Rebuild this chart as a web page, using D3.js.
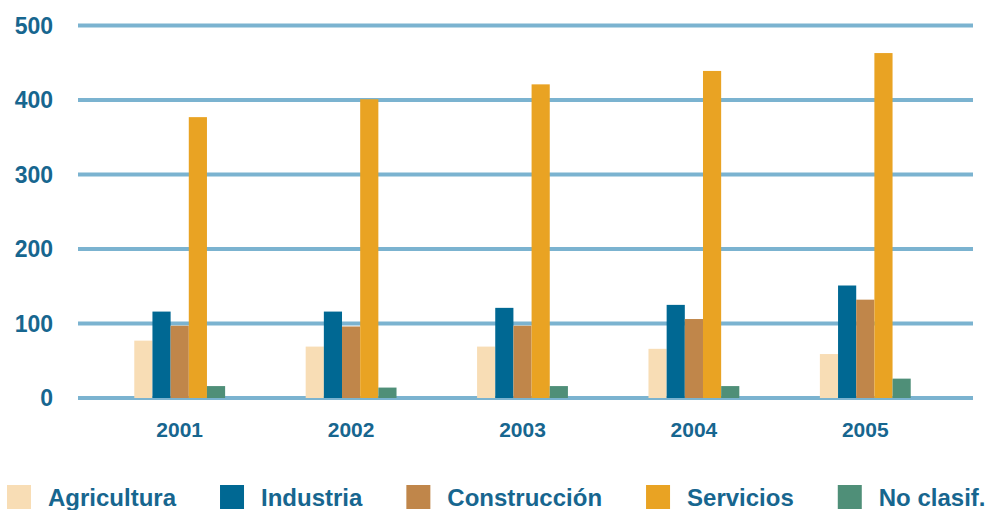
<!DOCTYPE html>
<html>
<head>
<meta charset="utf-8">
<script src="https://cdn.jsdelivr.net/npm/d3@7"></script>
<style>
  body { margin: 0; background: #fff; }
  text { font-family: "Liberation Sans", Arial, sans-serif; font-weight: bold; fill: #17668f; }
</style>
</head>
<body>
<script>
var years = ["2001", "2002", "2003", "2004", "2005"];
var series = ["Agricultura", "Industria", "Construcción", "Servicios", "No clasif."];
var colors = ["#f8ddb5", "#006893", "#c0864a", "#e9a323", "#4f8f78"];

var agricultura = [77, 69, 69, 66, 59];
var industria = [116, 116, 121, 125, 151];
var construccion = [97, 96, 97, 106, 132];
var servicios = [377, 401, 421, 439, 463];
var noClasif = [16, 14, 16, 16, 26];

var yTicks = [0, 100, 200, 300, 400, 500];

var values = [agricultura, industria, construccion, servicios, noClasif];

var width = 994;
var height = 510;

var svg = d3.select("body")
    .append("svg")
    .attr("width", width)
    .attr("height", height);

var x0 = d3.scaleBand()
    .domain(years)
    .range([94, 951])
    .paddingInner(0.47)
    .paddingOuter(0.235);

var x1 = d3.scaleBand()
    .domain(series)
    .range([0, x0.bandwidth()]);

var y = d3.scaleLinear()
    .domain([0, 500])
    .range([398, 25.5]);

var color = d3.scaleOrdinal()
    .domain(series)
    .range(colors);

// gridlines
svg.append("g")
    .selectAll("line")
    .data(yTicks)
    .enter().append("line")
    .attr("x1", 78)
    .attr("x2", 973)
    .attr("y1", function(d) { return y(d); })
    .attr("y2", function(d) { return y(d); })
    .attr("stroke", "#7bb3d0")
    .attr("stroke-width", 4);

// y labels
svg.append("g")
    .selectAll("text")
    .data(yTicks)
    .enter().append("text")
    .attr("x", 53)
    .attr("y", function(d) { return y(d); })
    .attr("dy", "0.36em")
    .attr("text-anchor", "end")
    .style("font-size", "23px")
    .text(function(d) { return d; });

// bars
var rows = [];
years.forEach(function(yr, i) {
    series.forEach(function(s, j) {
        rows.push({ year: yr, key: s, value: values[j][i] });
    });
});

svg.append("g")
    .selectAll("rect")
    .data(rows)
    .enter().append("rect")
    .attr("x", function(d) { return x0(d.year) + x1(d.key); })
    .attr("y", function(d) { return y(d.value); })
    .attr("width", x1.bandwidth())
    .attr("height", function(d) { return y(0) - y(d.value); })
    .attr("fill", function(d) { return color(d.key); });

// x labels
svg.append("g")
    .selectAll("text")
    .data(years)
    .enter().append("text")
    .attr("x", function(d) { return x0(d) + x0.bandwidth() / 2; })
    .attr("y", 437)
    .attr("text-anchor", "middle")
    .style("font-size", "21px")
    .text(function(d) { return d; });

// legend
var legend = svg.append("g");
var lx = 7;
series.forEach(function(s) {
    legend.append("rect")
        .attr("x", lx)
        .attr("y", 485)
        .attr("width", 24)
        .attr("height", 24)
        .attr("fill", color(s));
    var t = legend.append("text")
        .attr("x", lx + 41)
        .attr("y", 506)
        .style("font-size", "24px")
        .text(s);
    lx = lx + 41 + t.node().getComputedTextLength() + 44;
});
</script>
</body>
</html>
